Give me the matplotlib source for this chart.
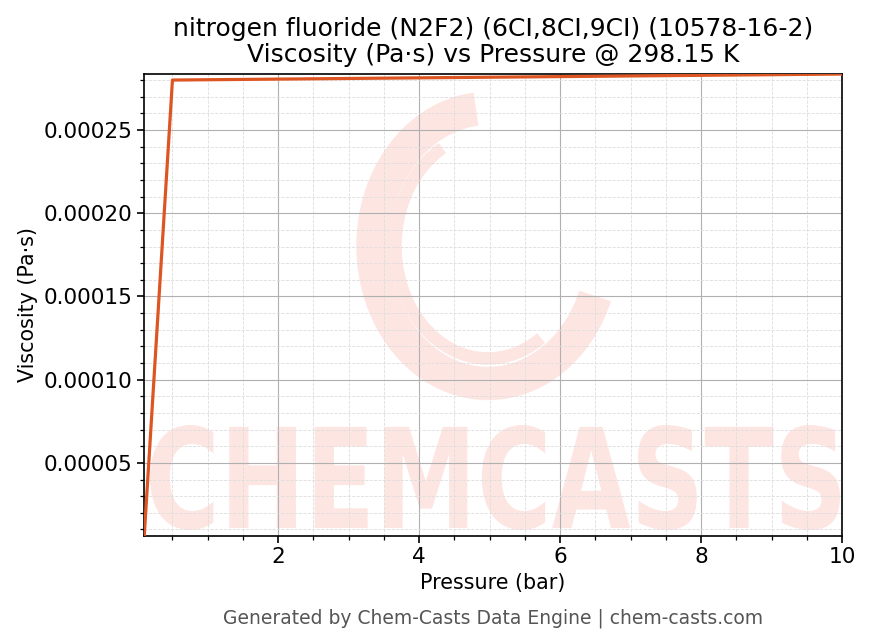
import matplotlib
matplotlib.use("Agg")
import matplotlib.pyplot as plt
from matplotlib.ticker import AutoMinorLocator
from matplotlib.textpath import TextPath
from matplotlib.patches import PathPatch, Arc
from matplotlib.font_manager import FontProperties
import matplotlib.transforms as mtransforms

# data
pressure_bar = [0.1, 0.5, 1.0, 2.0, 4.0, 6.0, 8.0, 10.0]
viscosity_pas = [6.2e-6, 2.8000e-4, 2.8019e-4, 2.8057e-4, 2.8133e-4, 2.8208e-4, 2.8284e-4, 2.8360e-4]

title = "nitrogen fluoride (N2F2) (6CI,8CI,9CI) (10578-16-2)\nViscosity (Pa·s) vs Pressure @ 298.15 K"
footer = "Generated by Chem-Casts Data Engine | chem-casts.com"

S = 1.354  # pt scale for dpi 100

fig = plt.figure(figsize=(8.69, 6.44), dpi=100)
ax = fig.add_axes([0.166, 0.168, 0.803, 0.717])

# watermark (logo swirl + text), in inches of the figure
wm_color = "#FDE5E2"
to_fig = fig.dpi_scale_trans
for w, h, t1, t2, lw in [(2.3, 2.75, 95, 335, 24), (1.85, 2.25, 115, 300, 9)]:
    arc = Arc((4.88, 3.98), w, h, theta1=t1, theta2=t2, color=wm_color,
              lw=lw, transform=to_fig, zorder=0.2)
    ax.add_artist(arc)
    arc.set_clip_on(False)

tp = TextPath((0, 0), "CHEMCASTS", prop=FontProperties(family="DejaVu Sans", weight="bold"))
ext = tp.get_extents()
x0, x1 = 1.50, 8.40
y0, y1 = (644 - 530) / 100, (644 - 425) / 100
tf = (mtransforms.Affine2D()
      .translate(-ext.x0, -ext.y0)
      .scale((x1 - x0) / ext.width, (y1 - y0) / ext.height)
      .translate(x0, y0)) + to_fig
wm = PathPatch(tp, facecolor=wm_color, edgecolor="none", transform=tf, zorder=0.2)
ax.add_artist(wm)

ax.plot(pressure_bar, viscosity_pas, color="#DD5522", lw=2.3, zorder=3)

ax.set_xlim(min(pressure_bar), max(pressure_bar))
ax.set_ylim(min(viscosity_pas), max(viscosity_pas))
ax.xaxis.set_minor_locator(AutoMinorLocator())
ax.yaxis.set_minor_locator(AutoMinorLocator())
ax.grid(True, which="major", color="#b0b0b0", lw=0.8, zorder=1)
ax.grid(True, which="minor", color="#dddddd", lw=0.6, ls="--", zorder=1)
ax.set_axisbelow(True)

ax.tick_params(labelsize=11.5 * S)
ax.tick_params(which="major", length=3.5 * S, width=1.2)
ax.tick_params(which="minor", length=2 * S, width=0.9)
for sp in ax.spines.values():
    sp.set_linewidth(1.2)

ax.set_xlabel("Pressure (bar)", fontsize=11 * S)
ax.set_ylabel("Viscosity (Pa·s)", fontsize=11 * S)
ax.set_title(title, fontsize=13.3 * S, linespacing=1.1, pad=9)

fig.text(0.567, 0.04, footer, ha="center", va="center", fontsize=10 * S, color="#555555")

fig.savefig("out.png", dpi=100)
